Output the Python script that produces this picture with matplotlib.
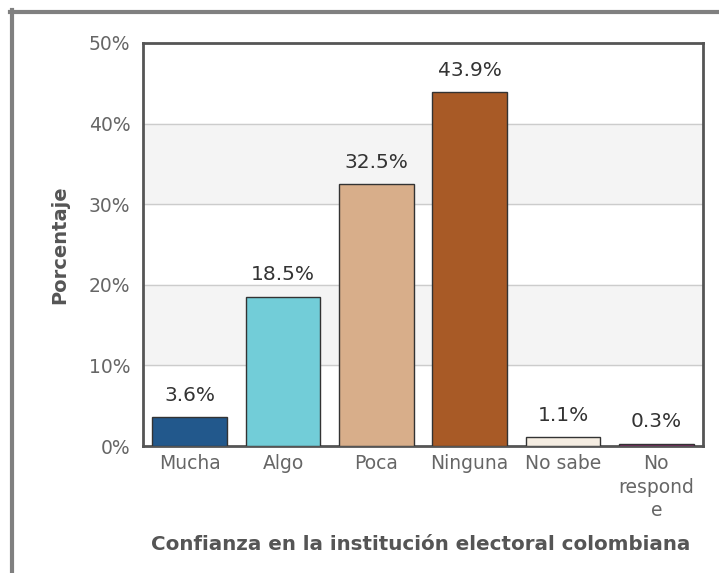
import matplotlib.pyplot as plt
from matplotlib.lines import Line2D

categorias = ['Mucha', 'Algo', 'Poca', 'Ninguna', 'No sabe', 'No\nrespond\ne']
porcentajes = [3.6, 18.5, 32.5, 43.9, 1.1, 0.3]
colores = ['#22588c', '#72cdd8', '#d8ae8a', '#a85a26', '#f5ede2', '#8b2a6e']
yticks = [0, 10, 20, 30, 40, 50]

plt.rcParams['font.family'] = 'DejaVu Sans'

fig = plt.figure(figsize=(7.19, 5.73), dpi=100)
ax = fig.add_axes([0.1989, 0.2216, 0.7789, 0.7034])

# bandas alternas de fondo
for lo in (10, 30):
    ax.axhspan(lo, lo + 10, color='#f4f4f4', zorder=0)
for y in yticks[1:-1]:
    ax.axhline(y, color='#cccccc', lw=1, zorder=1)

x = range(len(categorias))
ax.bar(x, porcentajes, width=0.8, color=colores, edgecolor='#333333',
       linewidth=1.0, zorder=3)

for xi, v in zip(x, porcentajes):
    ax.annotate(f'{v:.1f}%', (xi, v), xytext=(0, 9), textcoords='offset points',
                ha='center', va='bottom', fontsize=14.5, color='#333333')

ax.set_xlim(-0.5, len(categorias) - 0.5)
ax.set_ylim(0, 50)
ax.set_yticks(yticks)
ax.set_yticklabels([f'{t}%' for t in yticks])
ax.set_xticks(list(x))
ax.set_xticklabels(categorias, linespacing=1.3)
ax.tick_params(axis='both', length=0, labelsize=13.5, labelcolor='#666666')
ax.tick_params(axis='y', pad=9)
ax.tick_params(axis='x', pad=6)

for s in ax.spines.values():
    s.set_color('#555555')
    s.set_linewidth(2)

fig.text(0.083, 0.573, 'Porcentaje', rotation=90, ha='center', va='center',
         fontsize=14, fontweight='bold', color='#555555')
fig.text(0.5855, 0.049, 'Confianza en la institución electoral colombiana',
         ha='center', va='center', fontsize=14.3, fontweight='bold', color='#555555')

# marco exterior gris
fig.add_artist(Line2D([10 / 719, 1], [1 - 12 / 573, 1 - 12 / 573],
                      transform=fig.transFigure, color='#808080', lw=3))
fig.add_artist(Line2D([12 / 719, 12 / 719], [0, 1 - 10 / 573],
                      transform=fig.transFigure, color='#808080', lw=3))

fig.savefig('out.png', dpi=100)
